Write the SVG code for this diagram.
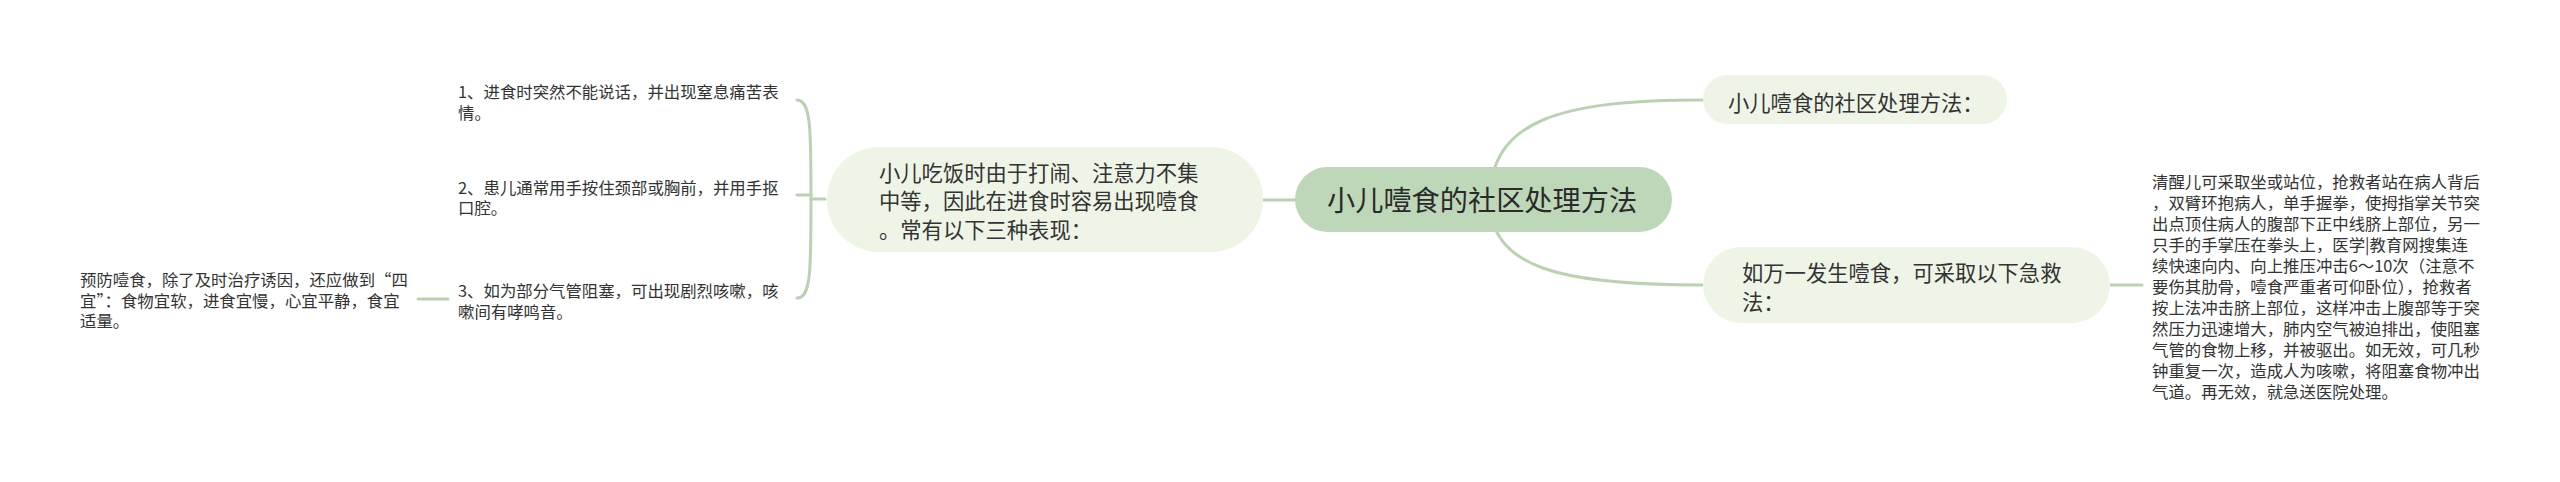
<svg xmlns="http://www.w3.org/2000/svg" width="2560" height="482" viewBox="0 0 2560 482">
<style>
.ln{fill:none;stroke:#bad2b3;stroke-width:3;stroke-linecap:round}
.t{font-family:"Noto Sans CJK SC","Noto Sans",sans-serif;fill:#333}
.root{fill:#bdd7b8}
.sub{fill:#eff5e6}
.f28{font-size:28.2px;fill:#2a2a2a}
.f21{font-size:21.3px}
.f16{font-size:16.4px}
</style>
<rect width="2560" height="482" fill="#ffffff"/>
<g id="connectors">
<path class="ln" d="M1490 200 C1490 120 1560 100 1703 100"/>
<path class="ln" d="M1490 200 C1490 268 1560 285 1703 285"/>
<path class="ln" d="M1263 200 L1300 200"/>
<path class="ln" d="M825 199 L811 199"/>
<path class="ln" d="M811 199 C811 130 811 100 797 100"/>
<path class="ln" d="M811 199 C811 270 811 298 797 298"/>
<path class="ln" d="M811 195 L797 195"/>
<path class="ln" d="M448 299 L418 299"/>
<path class="ln" d="M2110 285 L2142 285"/>
</g>
<g id="root">
<rect class="root" x="1295" y="167" width="377" height="65" rx="32.5"/>
<text class="t f28" x="1327" y="210.5">小儿噎食的社区处理方法</text>
</g>
<g id="left-node">
<rect class="sub" x="827" y="147" width="436" height="105" rx="52"/>
<text class="t f21" x="879"><tspan x="879" y="180.5">小儿吃饭时由于打闹、注意力不集</tspan><tspan x="879" y="209">中等，因此在进食时容易出现噎食</tspan><tspan x="879" y="237.5">。常有以下三种表现：</tspan></text>
</g>
<g id="leaf-1">
<text class="t f16" x="458"><tspan x="458" y="98">1、进食时突然不能说话，并出现窒息痛苦表</tspan><tspan x="458" y="118.5">情。</tspan></text>
</g>
<g id="leaf-2">
<text class="t f16" x="458"><tspan x="458" y="193.5">2、患儿通常用手按住颈部或胸前，并用手抠</tspan><tspan x="458" y="214">口腔。</tspan></text>
</g>
<g id="leaf-3">
<text class="t f16" x="458"><tspan x="458" y="297">3、如为部分气管阻塞，可出现剧烈咳嗽，咳</tspan><tspan x="458" y="317.5">嗽间有哮鸣音。</tspan></text>
</g>
<g id="leaf-4">
<text class="t f16" x="80"><tspan x="80" y="286">预防噎食，除了及时治疗诱因，还应做到“四</tspan><tspan x="80" y="306.5">宜”：食物宜软，进食宜慢，心宜平静，食宜</tspan><tspan x="80" y="327">适量。</tspan></text>
</g>
<g id="right-node-1">
<rect class="sub" x="1703" y="75" width="304" height="49" rx="24.5"/>
<text class="t f21" x="1728" y="111">小儿噎食的社区处理方法：</text>
</g>
<g id="right-node-2">
<rect class="sub" x="1703" y="247" width="407" height="76" rx="38"/>
<text class="t f21" x="1742"><tspan x="1742" y="281">如万一发生噎食，可采取以下急救</tspan><tspan x="1742" y="310">法：</tspan></text>
</g>
<g id="right-leaf">
<text class="t f16" x="2152"><tspan x="2152" y="188">清醒儿可采取坐或站位，抢救者站在病人背后</tspan><tspan x="2152" y="209">，双臂环抱病人，单手握拳，使拇指掌关节突</tspan><tspan x="2152" y="230">出点顶住病人的腹部下正中线脐上部位，另一</tspan><tspan x="2152" y="251">只手的手掌压在拳头上，医学|教育网搜集连</tspan><tspan x="2152" y="272">续快速向内、向上推压冲击6～10次（注意不</tspan><tspan x="2152" y="293">要伤其肋骨，噎食严重者可仰卧位），抢救者</tspan><tspan x="2152" y="314">按上法冲击脐上部位，这样冲击上腹部等于突</tspan><tspan x="2152" y="335">然压力迅速增大，肺内空气被迫排出，使阻塞</tspan><tspan x="2152" y="356">气管的食物上移，并被驱出。如无效，可几秒</tspan><tspan x="2152" y="377">钟重复一次，造成人为咳嗽，将阻塞食物冲出</tspan><tspan x="2152" y="398">气道。再无效，就急送医院处理。</tspan></text>
</g>
</svg>
